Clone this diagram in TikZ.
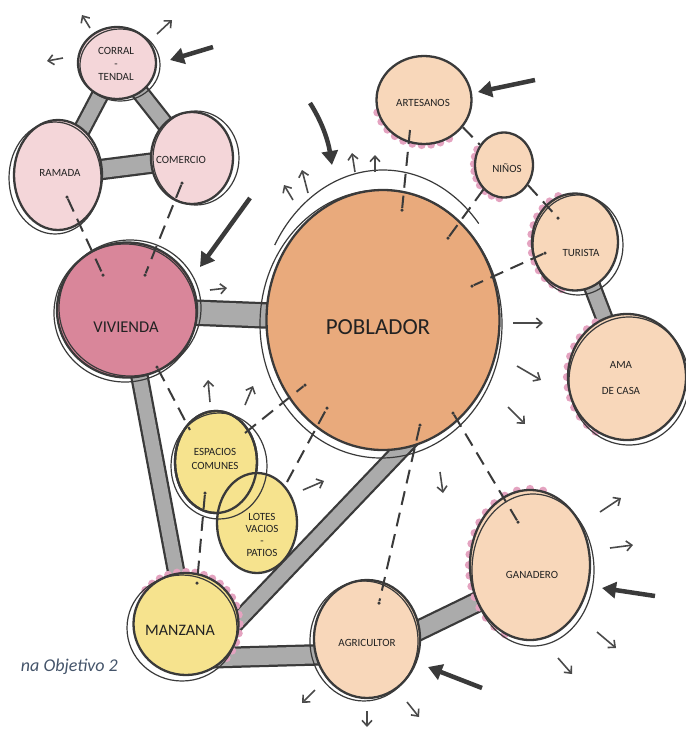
\documentclass[tikz,border=0pt]{standalone}
\usepackage{fontspec}
\setmainfont{Carlito}
\usetikzlibrary{arrows.meta,shapes.geometric,calc,backgrounds}
\definecolor{ink}{HTML}{3A3A3A}
\definecolor{pinkl}{HTML}{F4D6D9}
\definecolor{vivc}{HTML}{D9869A}
\definecolor{pobc}{HTML}{E9AA7C}
\definecolor{peach}{HTML}{F8D7BA}
\definecolor{yell}{HTML}{F6E38E}
\definecolor{barc}{HTML}{ABABAB}
\definecolor{bumpc}{HTML}{E4A3C0}
\definecolor{arr}{HTML}{4A4A4A}
\definecolor{txt}{HTML}{222222}
\definecolor{capc}{HTML}{44546A}
\begin{document}
\begin{tikzpicture}[x=1pt,y=-1pt,
  bub/.style={ellipse, draw=ink, line width=2.3pt, inner sep=0pt},
  lbl/.style={font=\fontsize{11}{13}\selectfont, text=txt, align=center, inner sep=0pt},
  dotn/.style={circle, fill=ink, inner sep=0pt, minimum size=3.5pt},
  dashc/.style={draw=ink, line width=2pt, dash pattern=on 14pt off 8pt},
  bar/.style={draw=barc, line width=14pt, preaction={draw=ink, line width=18.5pt}},
  widebar/.style={draw=barc, line width=22pt, preaction={draw=ink, line width=26.5pt}},
  sarrow/.style={draw=arr, line width=1.6pt, -{Straight Barb[length=5.5pt,width=10pt]}},
  barrow/.style={draw=ink, line width=4.5pt, -{Triangle[length=14pt,width=16pt]}},
  sketch/.style={draw=ink, line width=1.2pt},
  bumpd/.style={fill=bumpc}
]
\useasboundingbox (0,0) rectangle (686,729);

% ---------- bubbles ----------
\node[bub, fill=pinkl, minimum width=78pt, minimum height=72pt] (cor) at (117,63) {};
\node[bub, fill=pinkl, minimum width=88pt, minimum height=110pt] (ram) at (58,175) {};
\node[bub, fill=pinkl, minimum width=82pt, minimum height=92pt] (com) at (192,158) {};
\node[bub, fill=vivc, minimum width=140pt, minimum height=135pt] (viv) at (127,310) {};
\node[bub, fill=pobc, minimum width=233pt, minimum height=260pt] (pob) at (383,320) {};
\node[bub, fill=peach, minimum width=95pt, minimum height=88pt] (art) at (424,100) {};
\node[bub, fill=peach, minimum width=58pt, minimum height=65pt] (nin) at (504,165) {};
\node[bub, fill=peach, minimum width=86pt, minimum height=97pt] (tur) at (575,242) {};
\node[bub, fill=peach, minimum width=118pt, minimum height=126pt] (ama) at (627,377) {};
\node[bub, fill=peach, minimum width=120pt, minimum height=150pt] (gan) at (530,565) {};
\node[bub, fill=peach, minimum width=106pt, minimum height=118pt] (agr) at (367,639) {};
\node[bub, fill=yell, minimum width=105pt, minimum height=102pt] (man) at (186,624) {};
\node[bub, fill=yell, minimum width=82pt, minimum height=102pt] (esp) at (216,462) {};
\node[bub, fill=yell, minimum width=80pt, minimum height=100pt] (lot) at (257,523) {};

% ---------- bars and bumps (behind) ----------
\begin{scope}[on background layer]
  \draw[bar] (cor.center) -- (ram.center);
  \draw[bar] (cor.center) -- (com.center);
  \draw[bar, line width=17pt, preaction={draw=ink, line width=21.5pt}] (ram.center) -- (com.center);
  \draw[widebar] (viv.center) -- (pob.center);
  \draw[bar] (tur.center) -- (ama.center);
  \draw[bar] (viv.center) -- (man.center);
  \draw[bar] ($(man.5)!-0.15!(pob.-82)$) -- ($(pob.-82)!-0.1!(man.5)$);
  \draw[bar, line width=17pt, preaction={draw=ink, line width=21.5pt}] ($(man.-39)!-0.2!(agr.197)$) -- ($(agr.197)!-0.2!(man.-39)$);
  \draw[bar, line width=17pt, preaction={draw=ink, line width=21.5pt}] ($(agr.10)!-0.2!(gan.215)$) -- ($(gan.215)!-0.2!(agr.10)$);
  \foreach \a in {195,207,...,303} \fill[bumpd] (art.\a) circle (4pt);
  \foreach \a in {150,164,...,262} \fill[bumpd] (nin.\a) circle (4pt);
  \foreach \a in {110,122,...,262} \fill[bumpd] (tur.\a) circle (4pt);
  \foreach \a in {120,130,...,240} \fill[bumpd] (ama.\a) circle (4pt);
  \foreach \a in {80,90,...,250} \fill[bumpd] (gan.\a) circle (4pt);
  \foreach \a in {-40,-30,...,140} \fill[bumpd] (man.\a) circle (4pt);
\end{scope}

% ---------- sketchy second outlines ----------
\draw[sketch] ($(cor.center)+(3,2)$) ellipse [x radius=40pt, y radius=36pt];
\draw[sketch] ($(ram.center)+(-3,3)$) ellipse [x radius=46pt, y radius=56pt];
\draw[sketch] ($(com.center)+(4,0)$) ellipse [x radius=43pt, y radius=47pt];
\draw[sketch] ($(viv.center)+(3,-2)$) ellipse [x radius=71pt, y radius=68pt];
\draw[sketch] ($(viv.center)+(-2,3)$) ellipse [x radius=71pt, y radius=69pt];
\draw[sketch] ($(pob.center)+(-2,4)$) ellipse [x radius=121pt, y radius=134pt];
\draw[sketch] ([shift={(150:125pt and 150pt)}]pob.center) arc[start angle=150, end angle=40, x radius=125pt, y radius=150pt];
\draw[sketch] ($(tur.center)+(3,3)$) ellipse [x radius=45pt, y radius=50pt];
\draw[sketch] ($(ama.center)+(2,4)$) ellipse [x radius=60pt, y radius=64pt];
\draw[sketch] ($(gan.center)+(3,5)$) ellipse [x radius=61pt, y radius=76pt];
\draw[sketch] ($(agr.center)+(-3,2)$) ellipse [x radius=54pt, y radius=60pt];
\draw[sketch] ($(man.center)+(-4,4)$) ellipse [x radius=55pt, y radius=53pt];
\draw[draw=ink, line width=2.3pt] (esp.center) ellipse [x radius=41pt, y radius=51pt];
\draw[sketch] ($(esp.center)+(3,4)$) ellipse [x radius=48pt, y radius=53pt];

% ---------- dots ----------
\node[dotn] (dram) at (67,197) {};
\node[dotn] (dvivA) at (103,275) {};
\node[dotn] (dcom) at (182,183) {};
\node[dotn] (dvivB) at (145,275) {};
\node[dotn] (dvivC) at (157,367) {};
\node[dotn] (dpob1) at (402,210) {};
\node[dotn] (dpob2) at (448,238) {};
\node[dotn] (dpob3) at (472,286) {};
\node[dotn] (dpob4) at (453,413) {};
\node[dotn] (dpob5) at (420,425) {};
\node[dotn] (dpob6) at (305,385) {};
\node[dotn] (dpob7) at (327,408) {};
\node[dotn] (dtur1) at (558,218) {};
\node[dotn] (dtur2) at (545,253) {};
\node[dotn] (dgan) at (518,522) {};
\node[dotn] (dagr) at (379,603) {};
\node[dotn] (desp) at (205,493) {};
\node[dotn] (dman) at (197,583) {};
\coordinate (cart) at (410,130);
\coordinate (cesp1) at (190,430);
\coordinate (cesp2) at (245,433);
\coordinate (clot) at (287,482);

% ---------- dashed connectors ----------
\draw[dashc] (dram) -- (dvivA);
\draw[dashc] (dcom) -- (dvivB);
\draw[dashc] (cart) -- (dpob1);
\draw[dashc] (art.-35) -- (nin.140);
\draw[dashc] (nin.-130) -- (dpob2);
\draw[dashc] (nin.-40) -- (dtur1);
\draw[dashc] (dtur2) -- (dpob3);
\draw[dashc] (dpob4) -- (dgan);
\draw[dashc] (dpob5) -- (dagr);
\draw[dashc] (dvivC) -- (cesp1);
\draw[dashc] (cesp2) -- (dpob6);
\draw[dashc] (clot) -- (dpob7);
\draw[dashc] (desp) -- (dman);

% ---------- labels ----------
\node[lbl] (corL) at (116,64) {CORRAL\\-\\TENDAL};
\node[lbl] (ramL) at (60,173) {RAMADA};
\node[lbl] (comL) at (181,160) {COMERCIO};
\node[lbl, font=\fontsize{16.5}{18}\selectfont] (vivL) at (126,327) {VIVIENDA};
\node[lbl, font=\fontsize{23}{26}\selectfont] (pobL) at (378,327) {POBLADOR};
\node[lbl] (artL) at (423,103) {ARTESANOS};
\node[lbl] (ninL) at (507,168) {NIÑOS};
\node[lbl] (turL) at (581,253) {TURISTA};
\node[lbl, font=\fontsize{11}{26}\selectfont] (amaL) at (621,378) {AMA\\DE CASA};
\node[lbl] (ganL) at (532,575) {GANADERO};
\node[lbl] (agrL) at (367,643) {AGRICULTOR};
\node[lbl, font=\fontsize{16}{18}\selectfont] (manL) at (180,630) {MANZANA};
\node[lbl, font=\fontsize{11}{14}\selectfont] (espL) at (215,459) {ESPACIOS\\COMUNES};
\node[lbl, font=\fontsize{11}{12}\selectfont] (lotL) at (262,535) {LOTES\\VACIOS\\-\\PATIOS};
\node[font=\fontsize{18}{20}\selectfont\itshape, text=capc, anchor=east, inner sep=0pt] (capL) at (118,667) {na Objetivo 2};

% ---------- big arrows ----------
\draw[barrow] (213,47) -- (170,60);
\draw[barrow] (535,80) -- (478,92);
\draw[barrow] (310,103) .. controls (322,122) and (328,140) .. (332,165);
\draw[barrow] (250,198) -- (200,267);
\draw[barrow] (655,596) -- (602,588);
\draw[barrow] (482,688) -- (428,667);

% ---------- small arrows ----------
\draw[sarrow] (63,58) -- (47,61);
\draw[sarrow] (90,28) -- (82,15);
\draw[sarrow] (157,34) -- (172,20);
\draw[sarrow] (293,200) -- (284,185);
\draw[sarrow] (308,193) -- (302,170);
\draw[sarrow] (355,172) -- (352,153);
\draw[sarrow] (375,172) -- (375,155);
\draw[sarrow] (210,290) -- (227,288);
\draw[sarrow] (210,402) -- (208,380);
\draw[sarrow] (245,405) -- (253,386);
\draw[sarrow] (303,490) -- (324,481);
\draw[sarrow] (440,472) -- (443,493);
\draw[sarrow] (513,323) -- (543,323);
\draw[sarrow] (517,366) -- (541,380);
\draw[sarrow] (508,407) -- (525,424);
\draw[sarrow] (600,512) -- (621,498);
\draw[sarrow] (610,548) -- (633,545);
\draw[sarrow] (597,632) -- (616,648);
\draw[sarrow] (558,658) -- (572,674);
\draw[sarrow] (407,702) -- (419,717);
\draw[sarrow] (367,711) -- (367,727);
\draw[sarrow] (315,690) -- (302,703);
\end{tikzpicture}
\end{document}
